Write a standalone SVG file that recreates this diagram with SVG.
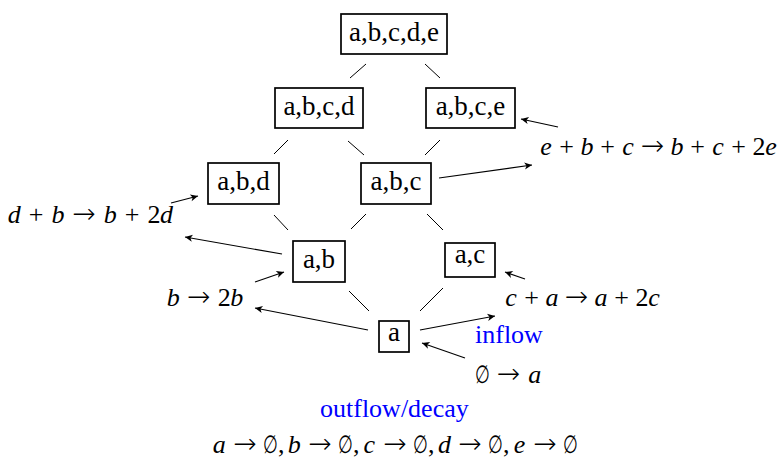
<svg xmlns="http://www.w3.org/2000/svg" width="780" height="460" viewBox="0 0 780 460">
<style>
  .box rect { fill: #fff; stroke: #000; stroke-width: 1.7; }
  .box text { font-family: "Liberation Serif", "DejaVu Serif", serif; font-size: 27px; text-anchor: middle; fill: #000; }
  .edge { stroke: #000; stroke-width: 1; fill: none; }
  .arr { stroke: #000; stroke-width: 1.1; fill: none; marker-end: url(#ah); }
  .m { font-family: "Liberation Serif", "DejaVu Serif", serif; font-size: 26px; fill: #000; text-anchor: middle; }
  .i { font-style: italic; }
  .to { font-family: "DejaVu Sans", sans-serif; font-size: 28px; font-weight: 200; }
  .es { font-family: "DejaVu Sans", sans-serif; font-size: 25px; font-weight: 200; text-anchor: middle; fill: #000; }
  .lbl { font-family: "Liberation Serif", "DejaVu Serif", serif; font-size: 26px; fill: #0000ff; }
</style>
<defs>
  <marker id="ah" viewBox="-8 -5 10 10" refX="0" refY="0" markerWidth="10" markerHeight="10" orient="auto" markerUnits="userSpaceOnUse">
    <path d="M0,0 L-7.5,-3.6 L-5.5,0 L-7.5,3.6 Z" fill="#000"/>
  </marker>
</defs>

<g id="connectors">
  <line class="edge" x1="366" y1="64" x2="350" y2="78"/>
  <line class="edge" x1="425" y1="64" x2="440" y2="78"/>
  <line class="edge" x1="288" y1="140" x2="274" y2="154"/>
  <line class="edge" x1="348" y1="141" x2="364" y2="155"/>
  <line class="edge" x1="440" y1="140" x2="425" y2="155"/>
  <line class="edge" x1="274" y1="215" x2="288" y2="230"/>
  <line class="edge" x1="366" y1="214" x2="351" y2="229"/>
  <line class="edge" x1="427" y1="214" x2="443" y2="230"/>
  <line class="edge" x1="349" y1="291" x2="369" y2="311"/>
  <line class="edge" x1="443" y1="288" x2="420" y2="311"/>

  <line class="arr" x1="439" y1="178" x2="532" y2="165"/>
  <line class="arr" x1="558" y1="127" x2="521" y2="119"/>
  <line class="arr" x1="171" y1="203" x2="198" y2="196"/>
  <line class="arr" x1="282" y1="254" x2="185" y2="237"/>
  <line class="arr" x1="255" y1="282" x2="284" y2="272"/>
  <line class="arr" x1="368" y1="330" x2="255" y2="308"/>
  <line class="arr" x1="420" y1="330" x2="495" y2="316"/>
  <line class="arr" x1="525" y1="279" x2="505" y2="272"/>
  <line class="arr" x1="465" y1="358" x2="422" y2="343"/>
</g>

<g id="n-abcde" class="box"><rect x="341" y="14" width="106" height="40"/><text x="394" y="41">a,b,c,d,e</text></g>
<g id="n-abcd" class="box"><rect x="275" y="88" width="88" height="40"/><text x="319" y="115">a,b,c,d</text></g>
<g id="n-abce" class="box"><rect x="426" y="88" width="89" height="40"/><text x="470.5" y="115">a,b,c,e</text></g>
<g id="n-abd" class="box"><rect x="208" y="163" width="71" height="41"/><text x="243.5" y="190">a,b,d</text></g>
<g id="n-abc" class="box"><rect x="361" y="163" width="70" height="41"/><text x="396" y="190">a,b,c</text></g>
<g id="n-ab" class="box"><rect x="293" y="241" width="52" height="41"/><text x="319" y="268">a,b</text></g>
<g id="n-ac" class="box"><rect x="445" y="243" width="50" height="34"/><text x="470" y="263">a,c</text></g>
<g id="n-a" class="box"><rect x="379" y="321" width="30" height="31"/><text x="394" y="341">a</text></g>

<g id="labels">
  <text class="m" y="155"><tspan class="i" x="546">e</tspan><tspan x="566.5">+</tspan><tspan class="i" x="587">b</tspan><tspan x="607.5">+</tspan><tspan class="i" x="628">c</tspan><tspan class="to" x="652.5">→</tspan><tspan class="i" x="677">b</tspan><tspan x="697.5">+</tspan><tspan class="i" x="718">c</tspan><tspan x="738.6">+</tspan><tspan x="759">2</tspan><tspan class="i" x="771">e</tspan></text>
  <text class="m" y="223"><tspan class="i" x="14.3">d</tspan><tspan x="36.2">+</tspan><tspan class="i" x="58.1">b</tspan><tspan class="to" x="84.1">→</tspan><tspan class="i" x="110.2">b</tspan><tspan x="132.1">+</tspan><tspan x="153.9">2</tspan><tspan class="i" x="166.6">d</tspan></text>
  <text class="m" y="306"><tspan class="i" x="173.2">b</tspan><tspan class="to" x="198.8">→</tspan><tspan x="224.3">2</tspan><tspan class="i" x="236.8">b</tspan></text>
  <text class="m" y="306"><tspan class="i" x="511">c</tspan><tspan x="531.5">+</tspan><tspan class="i" x="552">a</tspan><tspan class="to" x="576.5">→</tspan><tspan class="i" x="601">a</tspan><tspan x="621.6">+</tspan><tspan x="642.1">2</tspan><tspan class="i" x="654">c</tspan></text>
  <text class="lbl" x="475" y="343">inflow</text>
  <text class="es" transform="translate(482.4,383) scale(0.68,1)">∅</text>
  <text class="m" y="383"><tspan class="to" x="508.5">→</tspan><tspan class="i" x="534.7">a</tspan></text>
  <text class="lbl" x="320" y="417">outflow/decay</text>
  <text class="m" y="453"><tspan class="i" x="219.3">a</tspan><tspan class="to" x="245">→</tspan><tspan x="281.2">,</tspan><tspan class="i" x="294.3">b</tspan><tspan class="to" x="320">→</tspan><tspan x="356.2">,</tspan><tspan class="i" x="369.3">c</tspan><tspan class="to" x="395">→</tspan><tspan x="431.2">,</tspan><tspan class="i" x="444.4">d</tspan><tspan class="to" x="470.1">→</tspan><tspan x="506.3">,</tspan><tspan class="i" x="519.4">e</tspan><tspan class="to" x="545.1">→</tspan></text>
  <text class="es" transform="translate(270.4,453) scale(0.68,1)">∅</text>
  <text class="es" transform="translate(345.4,453) scale(0.68,1)">∅</text>
  <text class="es" transform="translate(420.4,453) scale(0.68,1)">∅</text>
  <text class="es" transform="translate(495.5,453) scale(0.68,1)">∅</text>
  <text class="es" transform="translate(570.5,453) scale(0.68,1)">∅</text>
</g>
</svg>
